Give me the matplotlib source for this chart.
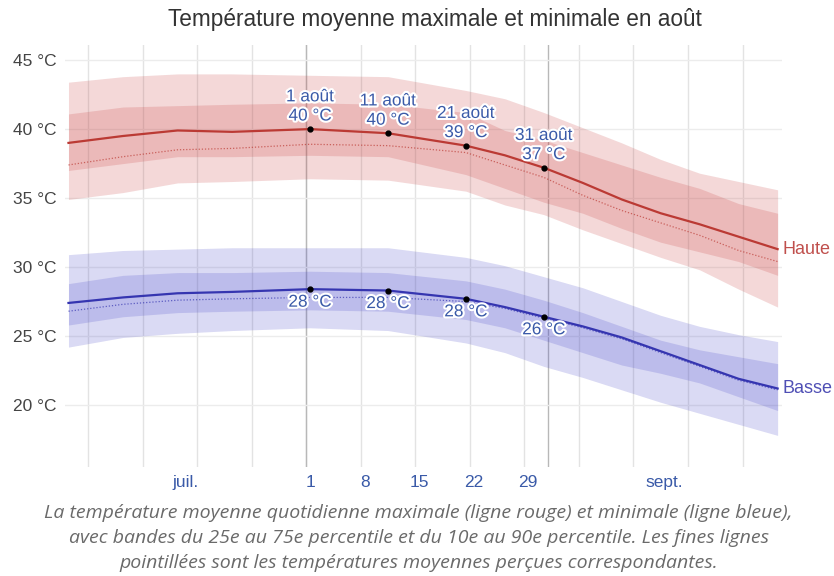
import numpy as np
import matplotlib.pyplot as plt
import matplotlib.patheffects as pe

# days since 1 July (1 Aug = 31, 1 Sept = 62)
days = [0, 7, 14, 21, 31, 41, 51, 56, 61, 66, 71, 76, 81, 86, 91]

# daily high (red)
high = [39.0, 39.5, 39.9, 39.8, 40.0, 39.7, 38.8, 38.1, 37.2, 36.1, 34.9, 33.9, 33.1, 32.2, 31.3]
high_feel = [37.4, 38.0, 38.5, 38.6, 38.9, 38.8, 38.3, 37.4, 36.5, 35.2, 34.1, 33.2, 32.3, 31.2, 30.4]
high_p75 = [41.1, 41.6, 41.7, 41.8, 41.9, 41.8, 41.2, 39.9, 39.2, 38.3, 37.4, 36.5, 35.7, 34.6, 33.9]
high_p25 = [37.0, 37.5, 38.0, 38.0, 38.1, 38.0, 36.7, 35.7, 34.7, 33.9, 32.8, 31.8, 31.1, 30.4, 29.4]
high_p90 = [43.4, 43.8, 44.0, 44.0, 43.9, 43.8, 42.8, 42.2, 41.2, 40.1, 39.0, 37.8, 36.8, 36.2, 35.6]
high_p10 = [34.9, 35.4, 36.1, 36.2, 36.4, 36.3, 35.5, 34.5, 33.8, 32.7, 31.7, 30.7, 29.8, 28.4, 27.1]

# daily low (blue)
low = [27.4, 27.8, 28.1, 28.2, 28.4, 28.3, 27.7, 27.1, 26.4, 25.7, 24.9, 23.9, 22.9, 21.9, 21.2]
low_feel = [26.8, 27.3, 27.6, 27.7, 27.8, 27.8, 27.5, 27.0, 26.3, 25.6, 24.8, 23.8, 22.8, 21.8, 21.1]
low_p75 = [28.8, 29.4, 29.6, 29.6, 29.7, 29.6, 29.0, 28.4, 27.6, 26.7, 25.7, 24.7, 24.0, 23.5, 23.0]
low_p25 = [25.8, 26.4, 26.7, 26.8, 26.9, 26.8, 26.2, 25.6, 24.7, 23.8, 22.9, 22.3, 21.6, 20.6, 19.6]
low_p90 = [30.9, 31.2, 31.3, 31.4, 31.4, 31.4, 30.7, 30.1, 29.3, 28.5, 27.5, 26.5, 25.7, 25.1, 24.6]
low_p10 = [24.2, 24.9, 25.2, 25.4, 25.6, 25.4, 24.5, 23.8, 22.8, 22.0, 21.1, 20.2, 19.4, 18.6, 17.8]

# annotated days
ann_days = [31, 41, 51, 61]
ann_names = ["1 août", "11 août", "21 août", "31 août"]
ann_high = [40, 40, 39, 37]
ann_low = [28, 28, 28, 26]
ann_high_y = [40.0, 39.7, 38.8, 37.2]
ann_low_y = [28.4, 28.3, 27.7, 26.4]

tick_pos = [15.5, 31.5, 38.5, 45.5, 52.5, 59.5, 77]
tick_labels = ["juil.", "1", "8", "15", "22", "29", "sept."]
yticks = [20, 25, 30, 35, 40, 45]

plt.rcParams['font.family'] = ['Liberation Sans', 'DejaVu Sans']

fig = plt.figure(figsize=(8.34, 5.76), dpi=100)
ax = fig.add_axes([0.078, 0.189, 0.86, 0.733])

x = np.array(days) + 0.5
red = '#bb3a34'
blue = '#3535b0'
txt_blue = '#3a5aa8'

# grid
for d in range(3, 92, 7):
    ax.axvline(d, color='#e3e3e3', lw=1, zorder=0)
for d in [31, 62]:
    ax.axvline(d, color='#b8b8b8', lw=1, zorder=0)
for v in yticks:
    ax.axhline(v, color='#ececec', lw=1, zorder=0)

# bands
ax.fill_between(x, high_p10, high_p90, color='#c84040', alpha=0.2, lw=0, zorder=1)
ax.fill_between(x, high_p25, high_p75, color='#c84040', alpha=0.2, lw=0, zorder=1)
ax.fill_between(x, low_p10, low_p90, color='#4646c8', alpha=0.2, lw=0, zorder=1)
ax.fill_between(x, low_p25, low_p75, color='#4646c8', alpha=0.2, lw=0, zorder=1)

ax.plot(x, high, color=red, lw=1.6, zorder=3)
ax.plot(x, high_feel, color=red, lw=0.9, ls=(0, (1, 1.5)), alpha=0.7, zorder=3)
ax.plot(x, low, color=blue, lw=1.6, zorder=3)
ax.plot(x, low_feel, color=blue, lw=0.9, ls=(0, (1, 1.5)), alpha=0.7, zorder=3)

halo = [pe.withStroke(linewidth=3, foreground='white')]
for d, name, th, tl, yh, yl in zip(ann_days, ann_names, ann_high, ann_low, ann_high_y, ann_low_y):
    ax.plot(d + 0.5, yh, 'o', color='black', ms=3.5, zorder=5)
    ax.plot(d + 0.5, yl, 'o', color='black', ms=3.5, zorder=5)
    ax.annotate(f"{name}\n{th} °C", (d + 0.5, yh), xytext=(0, 4), textcoords='offset points',
                ha='center', va='bottom', fontsize=12.4, color=txt_blue, linespacing=1.35,
                path_effects=halo, zorder=6)
    ax.annotate(f"{tl} °C", (d + 0.5, yl), xytext=(0, -4), textcoords='offset points',
                ha='center', va='top', fontsize=12.4, color=txt_blue,
                path_effects=halo, zorder=6)

ax.text(x[-1] + 0.6, high[-1], "Haute", color='#c0504d', fontsize=13, va='center', ha='left')
ax.text(x[-1] + 0.6, low[-1], "Basse", color='#4f4fb5', fontsize=13, va='center', ha='left')

ax.set_xlim(0.06, 92.1)
ax.set_ylim(15.5, 46.1)
ax.set_xticks(tick_pos)
ax.set_xticklabels(tick_labels, color=txt_blue, fontsize=12.5)
ax.set_yticks(yticks)
ax.set_yticklabels([f"{v} °C" for v in yticks], color='#444444', fontsize=12.5)
ax.tick_params(length=0, pad=6)
ax.tick_params(axis='x', pad=6)
for s in ax.spines.values():
    s.set_visible(False)

fig.text(0.521, 0.967, "Température moyenne maximale et minimale en août", ha='center', va='center',
         fontsize=16.3, color='#333333')

caption = ("La température moyenne quotidienne maximale (ligne rouge) et minimale (ligne bleue),\n"
           "avec bandes du 25e au 75e percentile et du 10e au 90e percentile. Les fines lignes\n"
           "pointillées sont les températures moyennes perçues correspondantes.")
fig.text(0.502, 0.066, caption, ha='center', va='center', fontsize=14, color='#6a6a6a',
         style='italic', family=['Open Sans', 'DejaVu Sans'], linespacing=1.5)

fig.savefig('out.png', dpi=100, facecolor='white')
